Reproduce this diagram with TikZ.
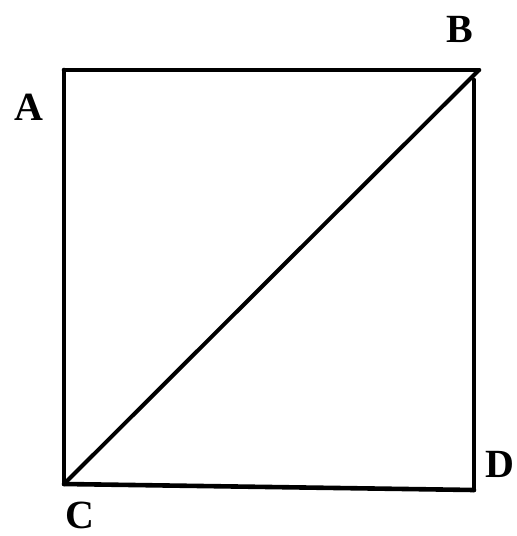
\documentclass[tikz,border=0pt]{standalone}
\usepackage{fontspec}
\setmainfont{Liberation Serif}
\begin{document}
\begin{tikzpicture}[x=1pt,y=-1pt,
  edge/.style={line width=4.6pt,line cap=round,line join=round},
  lab/.style={font=\fontsize{40}{44}\selectfont\bfseries,inner sep=0pt}]
\useasboundingbox (0,0) rectangle (517,536);
\coordinate (A) at (64,70);
\coordinate (B) at (479,70);
\coordinate (D) at (474,490);
\coordinate (C) at (64,484);
\coordinate (Bt) at (474,80);
\draw[edge] (A) -- (B);
\draw[edge] (A) -- (C);
\draw[edge] (C) -- (D);
\draw[edge] (Bt) -- (D);
\draw[line width=4pt,line cap=round] (C) -- (B);
\node[lab] (lA) at (29,107) {A};
\node[lab] (lB) at (460,29) {B};
\node[lab] (lC) at (80,515) {C};
\node[lab] (lD) at (500,464) {D};
\end{tikzpicture}
\end{document}
